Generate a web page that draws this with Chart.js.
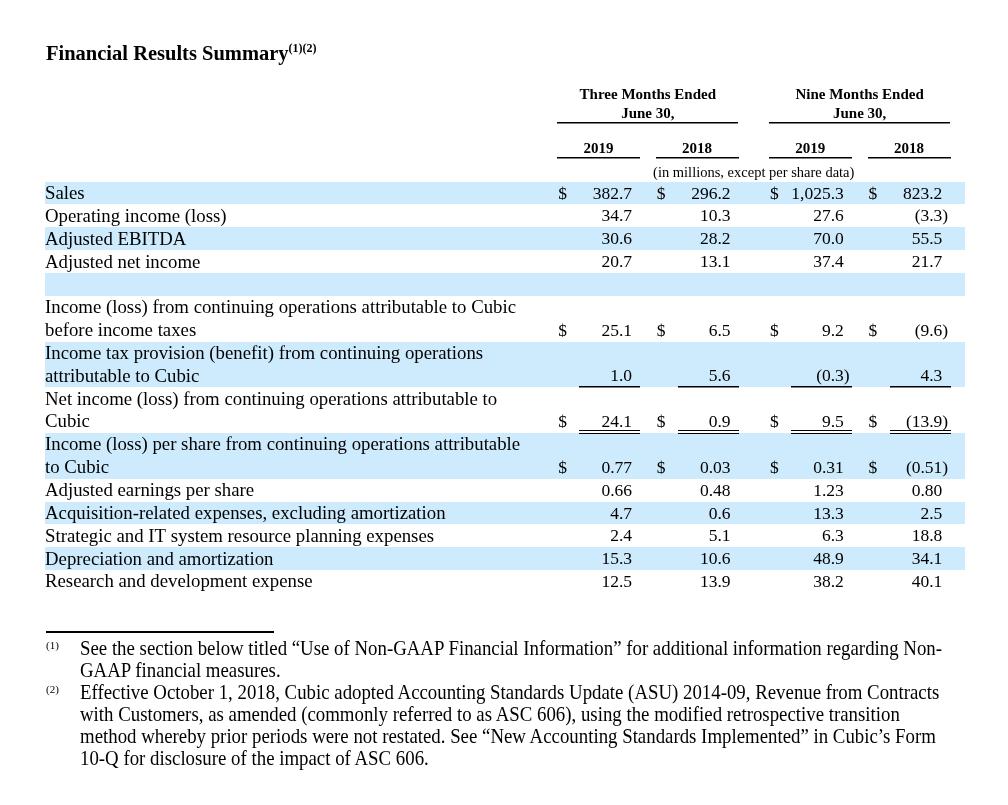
<!DOCTYPE html>
<html>
<head>
<meta charset="utf-8">
<title>Financial Results Summary</title>
<script src="https://cdn.jsdelivr.net/npm/chart.js@4/dist/chart.umd.min.js"></script>
<style>
  body { margin: 0; background: #fff; }
  #page { position: relative; width: 1008px; height: 805px; font-family: "Liberation Serif", "Times New Roman", serif; color: #000; }
  #tableChart { position: absolute; left: 0; top: 0; }
  #title { position: absolute; left: 46px; top: 41px; font-weight: bold; font-size: 20.5px; white-space: nowrap; }
  #title sup { font-size: 12px; vertical-align: 8px; }
  .rule { position: absolute; left: 46px; top: 631px; width: 228px; height: 2px; background: #000; }
  .fn { position: absolute; left: 80px; font-size: 21px; line-height: 22px; white-space: nowrap; transform-origin: 0 50%; }
  .mark { position: absolute; left: 46px; font-size: 11px; }
</style>
</head>
<body>
<div id="page">
  <canvas id="tableChart" width="1008" height="805"></canvas>
  <div id="title">Financial Results Summary<sup>(1)(2)</sup></div>
  <div class="rule"></div>
  <div class="mark" style="top:639px">(1)</div>
  <div class="fn" style="top:637px">See the section below titled “Use of Non-GAAP Financial Information” for additional information regarding Non-</div>
  <div class="fn" style="top:659px">GAAP financial measures.</div>
  <div class="mark" style="top:683px">(2)</div>
  <div class="fn" style="top:681px">Effective October 1, 2018, Cubic adopted Accounting Standards Update (ASU) 2014-09, Revenue from Contracts</div>
  <div class="fn" style="top:703px">with Customers, as amended (commonly referred to as ASC 606), using the modified retrospective transition</div>
  <div class="fn" style="top:725px">method whereby prior periods were not restated. See “New Accounting Standards Implemented” in Cubic’s Form</div>
  <div class="fn" style="top:747px">10-Q for disclosure of the impact of ASC 606.</div>
</div>
<script>
// lignes du tableau (chaque ligne peut tenir sur 1 ou 2 lignes de texte)
const rowLabels = [
    ["Sales"],
    ["Operating income (loss)"],
    ["Adjusted EBITDA"],
    ["Adjusted net income"],
    [""],
    ["Income (loss) from continuing operations attributable to Cubic", "before income taxes"],
    ["Income tax provision (benefit) from continuing operations", "attributable to Cubic"],
    ["Net income (loss) from continuing operations attributable to", "Cubic"],
    ["Income (loss) per share from continuing operations attributable", "to Cubic"],
    ["Adjusted earnings per share"],
    ["Acquisition-related expenses, excluding amortization"],
    ["Strategic and IT system resource planning expenses"],
    ["Depreciation and amortization"],
    ["Research and development expense"]
];

const groupLabels = [["Three Months Ended", "June 30,"], ["Nine Months Ended", "June 30,"]];
const yearLabels = ["2019", "2018", "2019", "2018"];
const unitsNote = "(in millions, except per share data)";

const threeMonths2019 = [382.7, 34.7, 30.6, 20.7, null, 25.1, 1.0, 24.1, 0.77, 0.66, 4.7, 2.4, 15.3, 12.5];
const threeMonths2018 = [296.2, 10.3, 28.2, 13.1, null, 6.5, 5.6, 0.9, 0.03, 0.48, 0.6, 5.1, 10.6, 13.9];
const nineMonths2019 = [1025.3, 27.6, 70.0, 37.4, null, 9.2, -0.3, 9.5, 0.31, 1.23, 13.3, 6.3, 48.9, 38.2];
const nineMonths2018 = [823.2, -3.3, 55.5, 21.7, null, -9.6, 4.3, -13.9, -0.51, 0.80, 2.5, 18.8, 34.1, 40.1];

const decimals = [1, 1, 1, 1, 0, 1, 1, 1, 2, 2, 1, 1, 1, 1];
const dollarRows = [0, 5, 7, 8];
const singleUnderlineRows = [6];
const doubleUnderlineRows = [7];

const columns = [threeMonths2019, threeMonths2018, nineMonths2019, nineMonths2018];
const stripeColor = "#cdebfd";
const serif = '"Liberation Serif", "Times New Roman", serif';

// position de départ (en lignes de texte) de chaque rangée
const rowStart = [];
let line = 0;
rowLabels.forEach(function (l) { rowStart.push(line); line += l.length; });
const totalLines = line;

// colonnes : petit écart entre les deux groupes
const colX = columns.map(function (c, i) { return i + (i >= 2 ? 0.15 : 0); });
const COL_START = -0.76, COL_END = 0.08;

function fmt(v, dec) {
    const s = Math.abs(v).toLocaleString("en-US", { minimumFractionDigits: dec, maximumFractionDigits: dec });
    return v < 0 ? "(" + s : s;
}

const tablePlugin = {
    id: "tableText",
    beforeDatasetsDraw(chart) {
        const { ctx, scales: { x, y } } = chart;
        ctx.save();
        ctx.fillStyle = stripeColor;
        rowStart.forEach(function (start, i) {
            if (i % 2) return;
            const top = y.getPixelForValue(start - 0.5);
            const bottom = y.getPixelForValue(start + rowLabels[i].length - 0.5);
            ctx.fillRect(x.left + 4, Math.round(top), x.right - x.left - 6, Math.round(bottom) - Math.round(top));
        });
        ctx.restore();
    },
    afterDatasetsDraw(chart) {
        const { ctx, scales: { x, y } } = chart;
        const top = y.top;
        ctx.save();
        ctx.fillStyle = "#000";
        ctx.textBaseline = "middle";

        function hline(x1, x2, py, w) {
            ctx.fillRect(Math.round(x1), Math.round(py), Math.round(x2 - x1), w);
        }

        // en-têtes
        ctx.font = "bold 15px " + serif;
        ctx.textAlign = "center";
        groupLabels.forEach(function (g, gi) {
            const a = x.getPixelForValue(colX[gi * 2] + COL_START);
            const b = x.getPixelForValue(colX[gi * 2 + 1] + COL_END);
            ctx.fillText(g[0], (a + b) / 2, top - 86);
            ctx.fillText(g[1], (a + b) / 2, top - 67);
            hline(a, b, top - 60, 1.5);
        });
        yearLabels.forEach(function (t, i) {
            const a = x.getPixelForValue(colX[i] + COL_START);
            const b = x.getPixelForValue(colX[i] + COL_END);
            ctx.fillText(t, (a + b) / 2, top - 32);
            hline(a, b, top - 25, 1.5);
        });
        ctx.font = "14.5px " + serif;
        const ua = x.getPixelForValue(colX[0] + COL_START);
        const ub = x.getPixelForValue(colX[3] + COL_END);
        ctx.fillText(unitsNote, (ua + ub) / 2, top - 8);

        // libellés des rangées
        ctx.font = "18.8px " + serif;
        ctx.textAlign = "left";
        rowLabels.forEach(function (lines, i) {
            lines.forEach(function (t, k) {
                ctx.fillText(t, x.left + 4, y.getPixelForValue(rowStart[i] + k) + 1);
            });
        });

        // valeurs
        ctx.font = "17.5px " + serif;
        chart.data.datasets.forEach(function (ds, d) {
            const meta = chart.getDatasetMeta(d);
            meta.data.forEach(function (el, j) {
                const raw = ds.data[j];
                const r = raw.row;
                const px = el.x, py = el.y + 1;
                ctx.textAlign = "right";
                ctx.fillText(fmt(raw.v, decimals[r]), px, py);
                if (raw.v < 0) {
                    ctx.textAlign = "left";
                    ctx.fillText(")", px, py);
                }
                const start = x.getPixelForValue(colX[d] + COL_START);
                const end = x.getPixelForValue(colX[d] + COL_END);
                if (dollarRows.includes(r)) {
                    ctx.textAlign = "left";
                    ctx.fillText("$", start + 1, py);
                }
                const bandBottom = y.getPixelForValue(rowStart[r] + rowLabels[r].length - 0.5);
                if (singleUnderlineRows.includes(r)) {
                    hline(start + 22, end, bandBottom - 1.5, 1.5);
                }
                if (doubleUnderlineRows.includes(r)) {
                    hline(start + 22, end, bandBottom - 2.5, 1);
                    hline(start + 22, end, bandBottom + 0.5, 1);
                }
            });
        });
        ctx.restore();
    }
};

const datasets = columns.map(function (values, d) {
    const pts = [];
    values.forEach(function (v, i) {
        if (v === null) return;
        pts.push({ x: colX[d], y: rowStart[i] + rowLabels[i].length - 1, v: v, row: i });
    });
    return { label: yearLabels[d], data: pts, pointRadius: 0, showLine: false };
});

const tableChart = new Chart(document.getElementById("tableChart").getContext("2d"), {
    type: "scatter",
    data: { datasets: datasets },
    options: {
        responsive: false,
        animation: false,
        events: [],
        layout: { padding: { left: 41, right: 41, top: 181.6, bottom: 805 - 181.6 - totalLines * 22.85 } },
        scales: {
            x: { type: "linear", min: -6, max: 3.4, display: false },
            y: { type: "linear", min: -0.5, max: totalLines - 0.5, reverse: true, display: false }
        },
        plugins: { legend: { display: false }, tooltip: { enabled: false } }
    },
    plugins: [tablePlugin]
});

// notes de bas de page : police étroite, on ajuste la largeur sur la première ligne
const notes = document.querySelectorAll(".fn");
const squeeze = 862 / notes[0].getBoundingClientRect().width;
notes.forEach(function (n) { n.style.transform = "scaleX(" + squeeze + ")"; });
</script>
</body>
</html>
